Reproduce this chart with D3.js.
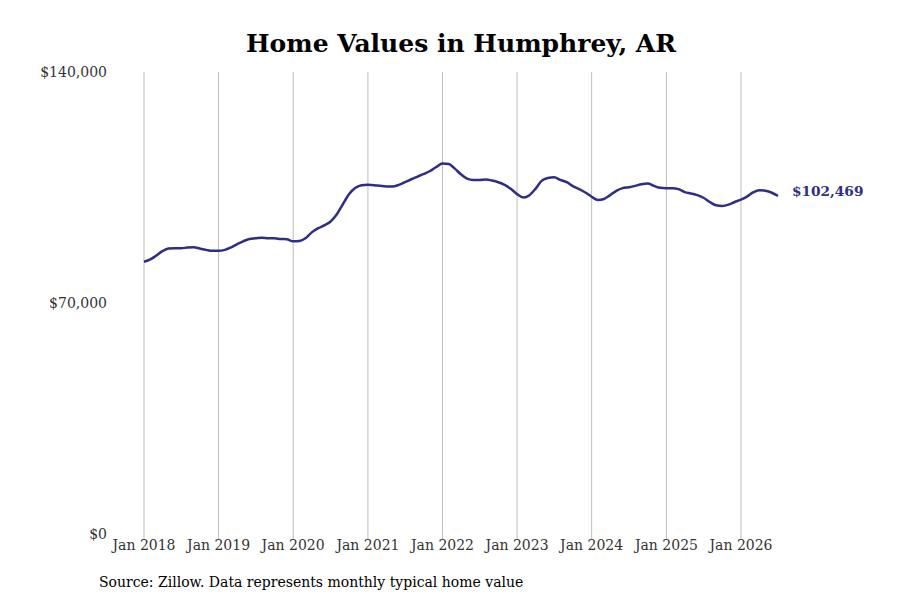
<!DOCTYPE html>
<html>
<head>
<meta charset="utf-8">
<script src="https://cdn.jsdelivr.net/npm/d3@7"></script>
<style>
    body { margin: 0; background: #fff; }
    text { font-family: "DejaVu Serif", serif; }
</style>
</head>
<body>
<div id="chart"></div>
<script>
// Monthly typical home value, Jan 2018 to Jul 2026
const startYear = 2018;
const values = [
    82500, 83200, 84300, 85700, 86500, 86600, 86600, 86800, 86900, 86500, 86100, 85800,
    85800, 86100, 86800, 87800, 88700, 89400, 89600, 89800, 89600, 89600, 89400, 89300,
    88700, 88800, 89600, 91400, 92600, 93500, 94600, 96800, 100000, 103000, 104900, 105700,
    105800, 105700, 105500, 105300, 105300, 105800, 106600, 107500, 108300, 109100, 110000, 111200,
    112300, 112100, 110800, 109000, 107700, 107300, 107300, 107400, 107100, 106600, 105800, 104600,
    103000, 102000, 102600, 104600, 107000, 107900, 108100, 107300, 106600, 105400, 104500, 103500,
    102200, 101200, 101500, 102700, 104000, 104800, 105100, 105500, 106000, 106200, 105500, 104900,
    104800, 104800, 104500, 103600, 103200, 102700, 101900, 100600, 99600, 99400, 99800, 100600,
    101300, 102300, 103500, 104200, 104000, 103400, 102469
];
const yTicks = [0, 70000, 140000];
const xTickYears = [2018, 2019, 2020, 2021, 2022, 2023, 2024, 2025, 2026];

const data = values.map(function(v, i) {
    return { date: new Date(startYear, i, 1), value: v };
});

const width = 900;
const height = 600;

const svg = d3.select("#chart")
    .append("svg")
    .attr("width", width)
    .attr("height", height);

const x = d3.scaleTime()
    .domain([new Date(2018, 0, 1), new Date(2026, 0, 1)])
    .range([144, 741]);

const y = d3.scaleLinear()
    .domain([0, 140000])
    .range([534, 72]);

// Title
svg.append("text")
    .attr("x", 461)
    .attr("y", 52)
    .attr("text-anchor", "middle")
    .style("font-size", "25px")
    .style("font-weight", "bold")
    .attr("fill", "#000")
    .text("Home Values in Humphrey, AR");

// Vertical grid lines
svg.selectAll(".grid")
    .data(xTickYears)
    .enter()
    .append("line")
    .attr("class", "grid")
    .attr("x1", function(d) { return x(new Date(d, 0, 1)); })
    .attr("x2", function(d) { return x(new Date(d, 0, 1)); })
    .attr("y1", 72)
    .attr("y2", 540)
    .attr("stroke", "#bdbdbd")
    .attr("stroke-width", 1);

// X axis labels
svg.selectAll(".xlabel")
    .data(xTickYears)
    .enter()
    .append("text")
    .attr("class", "xlabel")
    .attr("x", function(d) { return x(new Date(d, 0, 1)); })
    .attr("y", 550)
    .attr("text-anchor", "middle")
    .style("font-size", "14px")
    .attr("fill", "#333")
    .text(function(d) { return "Jan " + d; });

// Y axis labels
svg.selectAll(".ylabel")
    .data(yTicks)
    .enter()
    .append("text")
    .attr("class", "ylabel")
    .attr("x", 107)
    .attr("y", function(d) { return y(d) + 5; })
    .attr("text-anchor", "end")
    .style("font-size", "14px")
    .attr("fill", "#333")
    .text(function(d) { return "$" + d3.format(",")(d); });

// Line
const line = d3.line()
    .x(function(d) { return x(d.date); })
    .y(function(d) { return y(d.value); })
    .curve(d3.curveMonotoneX);

svg.append("path")
    .datum(data)
    .attr("d", line)
    .attr("fill", "none")
    .attr("stroke", "#2e2d88")
    .attr("stroke-width", 2.5);

// End label
const last = data[data.length - 1];
svg.append("text")
    .attr("x", x(last.date) + 14)
    .attr("y", y(last.value))
    .style("font-size", "13.7px")
    .style("font-weight", "bold")
    .attr("fill", "#2e2d88")
    .text("$" + d3.format(",")(last.value));

// Source
svg.append("text")
    .attr("x", 99)
    .attr("y", 587)
    .style("font-size", "14px")
    .attr("fill", "#000")
    .text("Source: Zillow. Data represents monthly typical home value");
</script>
</body>
</html>
